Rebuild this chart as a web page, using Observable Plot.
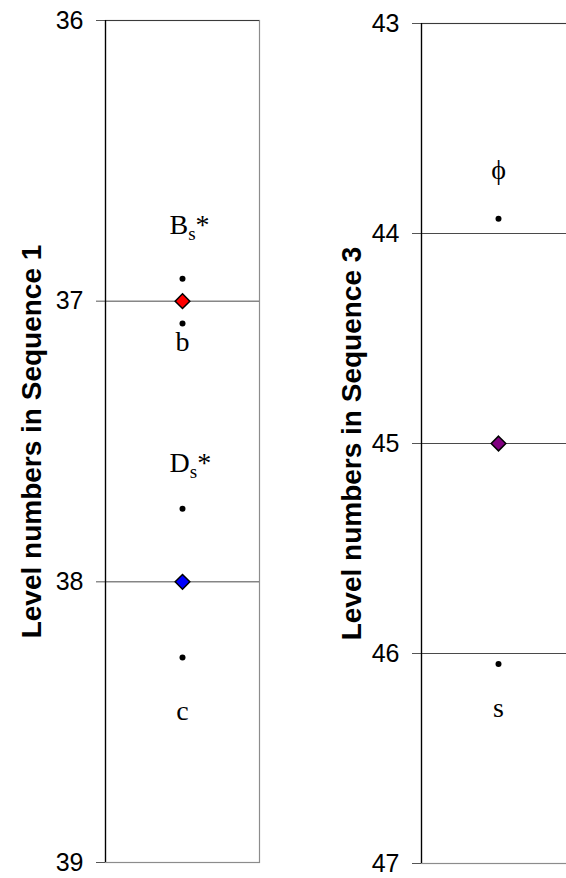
<!DOCTYPE html>
<html><head><meta charset="utf-8">
<script src="https://cdn.jsdelivr.net/npm/d3@7"></script>
<script src="https://cdn.jsdelivr.net/npm/@observablehq/plot@0.6"></script>
<style>
body{margin:0;background:#fff;}
#wrap{position:relative;width:566px;height:878px;overflow:hidden;background:#fff;}
#p1{position:absolute;left:0;top:0;width:283px;height:878px;}
#p2{position:absolute;left:283px;top:0;width:292px;height:878px;}
#wrap svg{max-width:none !important;display:block;}
</style></head><body><div id="wrap"><div id="p1"></div><div id="p2"></div></div>
<script>
// Sequence 1 panel
const seq1Ticks = [36, 37, 38, 39];
const seq1Grid = [37, 38];
const seq1Dots = [36.92, 37.08, 37.74, 38.27];
const seq1Diamonds = [37, 38];
const seq1DiamondColors = ["#ff0000", "#0000ff"];
const seq1Labels = ["B_s*", "b", "D_s*", "c"];
const seq1LabelLevels = [36.73, 37.145, 37.575, 38.46];
const seq1Title = "Level numbers in Sequence 1";

// Sequence 3 panel
const seq3Ticks = [43, 44, 45, 46, 47];
const seq3Grid = [44, 45, 46];
const seq3Dots = [43.93, 46.05];
const seq3Diamonds = [45];
const seq3DiamondColors = ["#800080"];
const seq3Labels = ["\u03D5", "s"];
const seq3LabelLevels = [43.70, 46.26];
const seq3Title = "Level numbers in Sequence 3";

const SANS = "Liberation Sans, Arial, sans-serif";
const SERIF = "Liberation Serif, Times New Roman, serif";

function panel(cfg) {
  const lo = cfg.ticks[0], hi = cfg.ticks[cfg.ticks.length - 1];
  const diamonds = cfg.diamonds.map((v, i) => ({level: v, color: cfg.colors[i]}));
  const labels = cfg.labels.map((t, i) => ({text: t, level: cfg.levels[i]}));
  const subLabels = labels.filter(d => d.text.includes("_"));
  const plainLabels = labels.filter(d => !d.text.includes("_"));
  const svg = Plot.plot({
    width: cfg.width, height: 878,
    marginLeft: cfg.marginLeft, marginRight: cfg.marginRight,
    marginTop: cfg.marginTop, marginBottom: cfg.marginBottom,
    x: {domain: [0, 1], axis: null},
    y: {domain: [lo, hi], reverse: true, axis: null},
    color: {type: "identity"},
    style: {background: "#fff", overflow: "visible", maxWidth: "none"},
    marks: [
      Plot.frame({stroke: "#8c8c8c", strokeWidth: 1.2}),
      Plot.ruleY(cfg.grid, {stroke: "#4a4a4a", strokeWidth: 1}),
      Plot.ruleY([lo], {stroke: "#3a3a3a", strokeWidth: 1.2}),
      Plot.axisY({ticks: cfg.ticks, tickSize: 9, tickPadding: 13, fontSize: 25,
        fontFamily: SANS, label: null, tickFormat: d => String(d), stroke: "#555"}),
      Plot.ruleX([0], {stroke: "#000", strokeWidth: 1.3}),
      Plot.dot(cfg.dots, {y: d => d, r: 3, fill: "#000", stroke: "none"}),
      Plot.dot(diamonds, {y: "level", symbol: "diamond2", r: 6.6, fill: "color",
        stroke: "#000", strokeWidth: 1.5}),
      Plot.text(plainLabels, {y: "level", text: "text", fontSize: 28, fontFamily: SERIF, fill: "#000"}),
      Plot.text(subLabels, {y: "level", text: "text", fontSize: 28, fontFamily: SERIF, fill: "#000",
        textAnchor: "start", dx: -13}),
      Plot.text([cfg.title], {frameAnchor: "left", textAnchor: "middle", lineAnchor: "middle",
        dx: -cfg.titleOffset, rotate: -90, text: d => d,
        fontSize: 28, fontWeight: "bold", fontFamily: SANS, fill: "#000"})
    ]
  });
  // render subscripts: "B_s*" -> B, subscript s, *
  svg.querySelectorAll("text").forEach(t => {
    const s = t.textContent;
    if (!s.includes("_") || t.children.length) return;
    const [main, rest] = s.split("_");
    const sub = rest.charAt(0), tail = rest.slice(1);
    t.textContent = "";
    t.appendChild(document.createTextNode(main));
    const ns = "http://www.w3.org/2000/svg";
    const ts = document.createElementNS(ns, "tspan");
    ts.setAttribute("font-size", "19");
    ts.setAttribute("dy", "6");
    ts.textContent = sub;
    t.appendChild(ts);
    const tt = document.createElementNS(ns, "tspan");
    tt.setAttribute("dy", "-6");
    tt.textContent = tail;
    t.appendChild(tt);
  });
  return svg;
}

document.getElementById("p1").appendChild(panel({
  ticks: seq1Ticks, grid: seq1Grid, dots: seq1Dots, diamonds: seq1Diamonds,
  colors: seq1DiamondColors, labels: seq1Labels, levels: seq1LabelLevels, title: seq1Title,
  width: 283, marginLeft: 105, marginRight: 24, marginTop: 20, marginBottom: 16, titleOffset: 73
}));
document.getElementById("p2").appendChild(panel({
  ticks: seq3Ticks, grid: seq3Grid, dots: seq3Dots, diamonds: seq3Diamonds,
  colors: seq3DiamondColors, labels: seq3Labels, levels: seq3LabelLevels, title: seq3Title,
  width: 292, marginLeft: 138, marginRight: 0, marginTop: 23, marginBottom: 15, titleOffset: 69
}));
</script></body></html>
